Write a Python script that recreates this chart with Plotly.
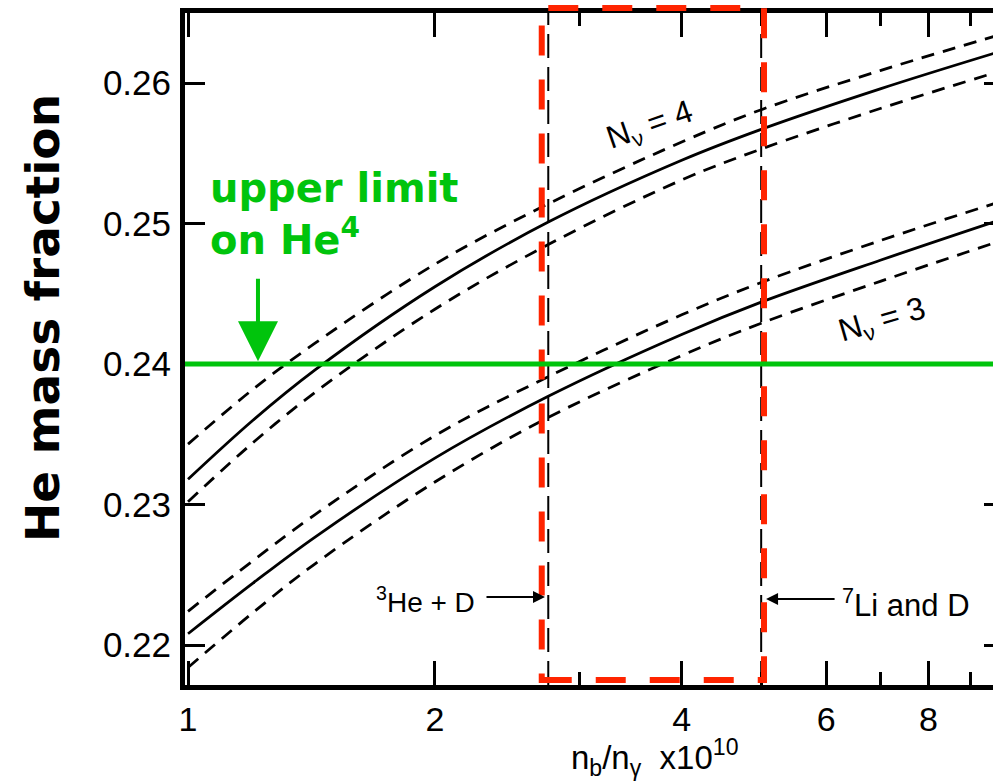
import math
import plotly.graph_objects as go

# Baryon-to-photon ratio (units of 1e-10) where the curves were read
eta = [1.0, 1.2, 1.43, 2.0, 2.75, 4.0, 5.0, 7.0, 9.6]

# Helium mass fraction for N_nu = 4 (central, upper and lower bounds)
y_n4_mid = [0.2318, 0.2360, 0.2396, 0.2455, 0.2501, 0.2545, 0.2567, 0.2596, 0.2621]
y_n4_hi = [0.2343, 0.2382, 0.2415, 0.2471, 0.2514, 0.2558, 0.2581, 0.2609, 0.2633]
y_n4_lo = [0.2302, 0.2344, 0.2380, 0.2439, 0.2485, 0.2531, 0.2553, 0.2582, 0.2607]

# Helium mass fraction for N_nu = 3
y_n3_mid = [0.2208, 0.2244, 0.2277, 0.2333, 0.2377, 0.2421, 0.2444, 0.2474, 0.2501]
y_n3_hi = [0.2224, 0.2260, 0.2293, 0.2349, 0.2391, 0.2435, 0.2458, 0.2488, 0.2514]
y_n3_lo = [0.2184, 0.2223, 0.2258, 0.2316, 0.2362, 0.2406, 0.2429, 0.2459, 0.2486]

# Bounds on eta from light elements and the allowed window
eta_he3_d = 2.75
eta_li7_d = 5.0
window_lo = 2.70
window_hi = 5.04
he4_limit = 0.24

x_ticks = [1, 2, 4, 6, 8]
x_tick_text = ["1", "2", "4", "6", "8"]
x_minor = [3, 5, 7, 9]
y_ticks = [0.22, 0.23, 0.24, 0.25, 0.26]
y_tick_text = ["0.22", "0.23", "0.24", "0.25", "0.26"]

X_RANGE = [-0.0037, 0.9817]
Y_RANGE = [0.217153, 0.264982]

GREEN = "#00c40c"
RED = "#ff2400"
SCAN_FONT = "Liberation Sans"
HAND_FONT = "DejaVu Sans"

# plot area in pixels (used to place free text)
L, R, T, B = 185, 993, 13, 685


def px(xp):
    return (xp - L) / (R - L)


def py(yp):
    return (B - yp) / (B - T)


fig = go.Figure()

curve_style = dict(mode="lines", line_shape="spline", hoverinfo="skip", showlegend=False)
for ys, dash in [(y_n4_hi, "13px,9px"), (y_n4_mid, "solid"), (y_n4_lo, "13px,9px"),
                 (y_n3_hi, "13px,9px"), (y_n3_mid, "solid"), (y_n3_lo, "13px,9px")]:
    fig.add_trace(go.Scatter(x=eta, y=ys, line=dict(color="black", width=2.8, dash=dash),
                             **curve_style))

# carrier trace for the right-hand tick axis
fig.add_trace(go.Scatter(x=[eta[0]], y=[y_ticks[0]], yaxis="y2", mode="markers",
                         marker=dict(opacity=0), hoverinfo="skip", showlegend=False))

shapes = []
# original boundary lines (thin black dashes)
for xv in (eta_he3_d, eta_li7_d):
    shapes.append(dict(type="line", xref="x", yref="paper", x0=xv, x1=xv, y0=0, y1=1,
                       line=dict(color="black", width=2, dash="24px,9px")))
# allowed window outlined in red
shapes.append(dict(type="rect", xref="x", yref="paper", x0=window_lo, x1=window_hi,
                   y0=py(680), y1=py(8),
                   line=dict(color=RED, width=6, dash="30px,24px")))
# helium upper limit
shapes.append(dict(type="line", xref="paper", yref="y", x0=0, x1=1, y0=he4_limit, y1=he4_limit,
                   line=dict(color=GREEN, width=5)))

center = dict(xanchor="center", yanchor="middle", showarrow=False)
annotations = [
    # axis titles
    dict(text="He mass fraction", xref="paper", yref="paper", x=px(42), y=py(318),
         textangle=-90, font=dict(family=HAND_FONT, size=47, color="black", weight="bold"),
         **center),
    dict(text="n<sub>b</sub>/n<sub>γ</sub>  x10<sup>10</sup>", xref="paper", yref="paper",
         x=px(655), y=py(757), font=dict(family=SCAN_FONT, size=33, color="black"), **center),
    # helium limit label and pointer
    dict(text="upper limit<br>on He<sup>4</sup>", xref="paper", yref="paper",
         x=px(208), y=py(163), xanchor="left", yanchor="top", align="left",
         showarrow=False, font=dict(family=HAND_FONT, size=40, color=GREEN, weight="bold")),
    dict(text="", x=math.log10(1.217), y=he4_limit + 0.0002, xref="x", yref="y",
         ax=0, ay=-84, showarrow=True, arrowhead=2, arrowsize=2.0, arrowwidth=4,
         arrowcolor=GREEN),
    # curve labels
    dict(text="N<sub>ν</sub> = 4", xref="paper", yref="paper", x=px(650), y=py(127),
         textangle=-19, font=dict(family=SCAN_FONT, size=32, color="black"), **center),
    dict(text="N<sub>ν</sub> = 3", xref="paper", yref="paper", x=px(882), y=py(321),
         textangle=-16, font=dict(family=SCAN_FONT, size=32, color="black"), **center),
    # boundary labels with arrows
    dict(text="<sup>3</sup>He + D", xref="paper", yref="paper", x=px(425), y=py(600),
         font=dict(family=SCAN_FONT, size=28, color="black"), **center),
    dict(text="", x=math.log10(eta_he3_d) - 0.004, y=0.22342, xref="x", yref="y",
         ax=-60, ay=0, showarrow=True, arrowhead=2, arrowsize=1.2, arrowwidth=2,
         arrowcolor="black"),
    dict(text="<sup>7</sup>Li and D", xref="paper", yref="paper", x=px(906), y=py(603),
         font=dict(family=SCAN_FONT, size=31, color="black"), **center),
    dict(text="", x=math.log10(eta_li7_d) + 0.006, y=0.22328, xref="x", yref="y",
         ax=70, ay=0, showarrow=True, arrowhead=2, arrowsize=1.2, arrowwidth=2,
         arrowcolor="black"),
]

fig.update_layout(
    width=993, height=784,
    margin=dict(l=L, r=993 - R, t=T, b=784 - B),
    paper_bgcolor="white", plot_bgcolor="white",
    showlegend=False,
    shapes=shapes,
    annotations=annotations,
    xaxis=dict(
        type="log", range=X_RANGE, showgrid=False, zeroline=False,
        showline=True, linewidth=5, linecolor="black", mirror="ticks",
        ticks="inside", ticklen=24, tickwidth=3, tickcolor="black",
        tickvals=x_ticks, ticktext=x_tick_text,
        tickfont=dict(family=SCAN_FONT, size=34, color="black"),
        minor=dict(tickvals=x_minor, ticks="inside", ticklen=13, tickwidth=3,
                   tickcolor="black", showgrid=False),
    ),
    yaxis=dict(
        range=Y_RANGE, showgrid=False, zeroline=False,
        showline=True, linewidth=5, linecolor="black", mirror=False,
        ticks="inside", ticklen=20, tickwidth=3, tickcolor="black",
        tickvals=y_ticks, ticktext=y_tick_text, ticklabelstandoff=2,
        tickfont=dict(family=SCAN_FONT, size=35, color="black"),
    ),
    yaxis2=dict(
        overlaying="y", side="right", anchor="x", range=Y_RANGE,
        showgrid=False, zeroline=False, showline=False,
        ticks="inside", ticklen=9, tickwidth=3, tickcolor="black",
        tickvals=y_ticks, showticklabels=False,
    ),
)

fig.write_html("out.html")
